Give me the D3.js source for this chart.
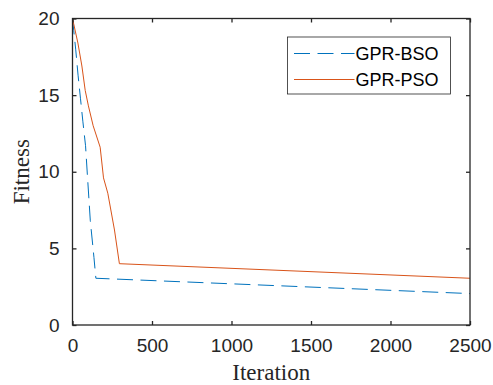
<!DOCTYPE html>
<html>
<head>
<meta charset="utf-8">
<script src="https://cdn.jsdelivr.net/npm/d3@7"></script>
<style>
  body { margin: 0; background: #fff; }
  svg { display: block; }
</style>
</head>
<body>
<svg id="chart" width="493" height="385"></svg>
<script>
const svg = d3.select("#chart");

// données
const seriesNames = ["GPR-BSO", "GPR-PSO"];
const bsoIter = [0, 8, 20, 35, 50, 65, 82, 96, 112, 135, 147, 2500];
const bsoFit = [20, 19.2, 18.0, 16.3, 14.8, 13.3, 11.7, 9.4, 6.8, 4.4, 3.05, 2.05];
const psoIter = [0, 34, 59, 80, 100, 130, 174, 195, 222, 264, 295, 2500];
const psoFit = [20, 18.4, 16.9, 15.3, 14.3, 13.0, 11.6, 9.6, 8.6, 6.2, 4.0, 3.05];
const xTicks = [0, 500, 1000, 1500, 2000, 2500];
const yTicks = [0, 5, 10, 15, 20];

const margin = { left: 72.5, right: 23, top: 18.5, bottom: 60 };
const width = 493 - margin.left - margin.right;
const height = 385 - margin.top - margin.bottom;
const axisColor = "#262626";
const colors = ["#0072BD", "#D95319"];

const x = d3.scaleLinear().domain([0, 2500]).range([0, width]);
const y = d3.scaleLinear().domain([0, 20]).range([height, 0]);

const g = svg.append("g")
  .attr("transform", `translate(${margin.left},${margin.top})`);

// courbes
const line = d3.line()
  .x(d => x(d[0]))
  .y(d => y(d[1]));

const bso = bsoIter.map((v, i) => [v, bsoFit[i]]);
const pso = psoIter.map((v, i) => [v, psoFit[i]]);

g.append("path")
  .datum(bso)
  .attr("d", line)
  .attr("fill", "none")
  .attr("stroke", colors[0])
  .attr("stroke-width", 1)
  .attr("stroke-dasharray", "16,7.5");

g.append("path")
  .datum(pso)
  .attr("d", line)
  .attr("fill", "none")
  .attr("stroke", colors[1])
  .attr("stroke-width", 1);

// axes (ticks vers l'intérieur, boîte fermée)
const tickStyle = sel => {
  sel.select(".domain").remove();
  sel.selectAll(".tick line").attr("stroke", axisColor).attr("stroke-width", 1.3);
  sel.selectAll(".tick text")
    .attr("fill", axisColor)
    .style("font-family", "Arial, 'Liberation Sans', sans-serif")
    .style("font-size", "19px");
};

g.append("g")
  .attr("transform", `translate(0,${height})`)
  .call(d3.axisBottom(x).tickValues(xTicks).tickFormat(d3.format("d"))
    .tickSizeInner(-4).tickSizeOuter(0).tickPadding(14))
  .call(tickStyle);

g.append("g")
  .call(d3.axisTop(x).tickValues(xTicks).tickSizeInner(-4).tickSizeOuter(0).tickFormat(""))
  .call(tickStyle);

g.append("g")
  .call(d3.axisLeft(y).tickValues(yTicks).tickFormat(d3.format("d"))
    .tickSizeInner(-4).tickSizeOuter(0).tickPadding(13))
  .call(tickStyle);

g.append("g")
  .attr("transform", `translate(${width},0)`)
  .call(d3.axisRight(y).tickValues(yTicks).tickSizeInner(-4).tickSizeOuter(0).tickFormat(""))
  .call(tickStyle);

g.append("rect")
  .attr("width", width)
  .attr("height", height)
  .attr("fill", "none")
  .attr("stroke", axisColor)
  .attr("stroke-width", 1.3);

// titres des axes
svg.append("text")
  .attr("x", margin.left + width / 2)
  .attr("y", 380)
  .attr("text-anchor", "middle")
  .attr("fill", axisColor)
  .style("font-family", "'Times New Roman', 'Liberation Serif', serif")
  .style("font-size", "23px")
  .text("Iteration");

svg.append("text")
  .attr("transform", `translate(29,${margin.top + height / 2}) rotate(-90)`)
  .attr("text-anchor", "middle")
  .attr("fill", axisColor)
  .style("font-family", "'Times New Roman', 'Liberation Serif', serif")
  .style("font-size", "23px")
  .text("Fitness");

// légende
const legend = svg.append("g").attr("transform", "translate(287.5,37)");
legend.append("rect")
  .attr("width", 163)
  .attr("height", 57)
  .attr("fill", "#fff")
  .attr("stroke", axisColor)
  .attr("stroke-width", 0.8);

seriesNames.forEach((name, i) => {
  const ly = 16.5 + i * 26;
  legend.append("line")
    .attr("x1", 6.5).attr("x2", 67)
    .attr("y1", ly).attr("y2", ly)
    .attr("stroke", colors[i])
    .attr("stroke-width", 1)
    .attr("stroke-dasharray", i === 0 ? "16,7.5" : null);
  legend.append("text")
    .attr("x", 68)
    .attr("y", ly)
    .attr("dy", "0.35em")
    .attr("fill", "#000")
    .style("font-family", "Arial, 'Liberation Sans', sans-serif")
    .style("font-size", "18px")
    .text(name);
});
</script>
</body>
</html>
